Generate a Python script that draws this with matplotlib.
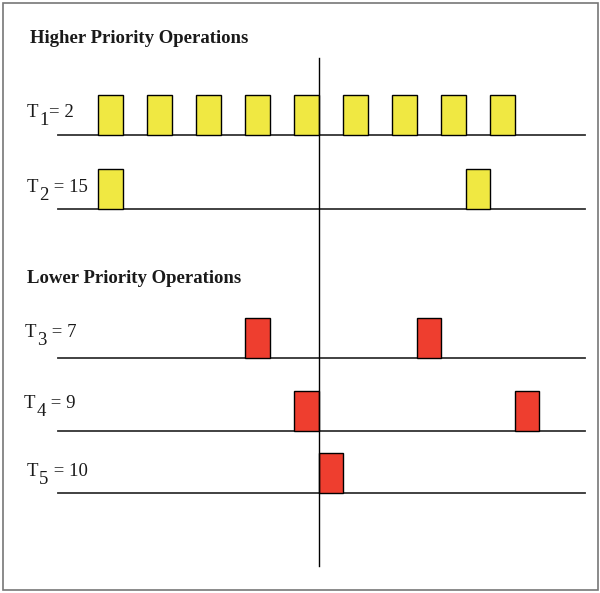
import matplotlib.pyplot as plt
from matplotlib.patches import Rectangle

plt.rcParams['font.family'] = ['Liberation Serif', 'DejaVu Serif']

# task periods and the times each one runs (one time unit per block)
tasks = ['1', '2', '3', '4', '5']
periods = [2, 15, 7, 9, 10]
runs = [
    [0, 2, 4, 6, 8, 10, 12, 14, 16],
    [0, 15],
    [6, 13],
    [8, 17],
    [9],
]
colors = ['#f0e842', '#f0e842', '#ee3e2f', '#ee3e2f', '#ee3e2f']
now = 9

# row baselines (pixel rows, top down)
rows = [135, 209, 358, 431, 493]
label_x = [27, 27, 25, 24, 27]
label_y = [117, 192, 337, 408, 476]
block_h = 40

fig = plt.figure(figsize=(6, 5.93), dpi=100)
ax = fig.add_axes([0, 0, 1, 1])
px = 24.5
ax.set_xlim(-98 / px, (600 - 98) / px)
ax.set_ylim(593, 0)
ax.axis('off')

# frame
ax.add_patch(Rectangle((-95 / px, 3), 595 / px, 587, fill=False,
                       ec='#777777', lw=1.2))

for i in range(len(tasks)):
    ax.plot([-40 / px, 487 / px], [rows[i], rows[i]], color='#333333', lw=1.3,
            zorder=1)
    for t in runs[i]:
        ax.add_patch(Rectangle((t, rows[i] - block_h), 1, block_h,
                               fc=colors[i], ec='black', lw=1.0, zorder=3))
    # label: T, lowered subscript, then "= period"
    tt = ax.text((label_x[i] - 98) / px, label_y[i], 'T', fontsize=13.5,
                 va='baseline', ha='left', color='#1a1a1a')
    sub = ax.annotate(tasks[i], xy=(1, 0), xycoords=tt, xytext=(0.5, -5.5),
                      textcoords='offset points', fontsize=13.5, va='bottom',
                      ha='left', color='#1a1a1a')
    eq = '= ' if i == 0 else ' = '
    ax.annotate(eq + str(periods[i]), xy=(1, 0), xycoords=(sub, tt),
                xytext=(0, 0), textcoords='offset points', fontsize=13.5,
                va='bottom', ha='left', color='#1a1a1a')

ax.plot([now, now], [58, 566], color='black', lw=1.0, zorder=4)

ax.text((30 - 98) / px, 43, 'Higher Priority Operations', fontsize=13.5,
        fontweight='bold', color='#1a1a1a', va='baseline')
ax.text((27 - 98) / px, 283, 'Lower Priority Operations', fontsize=13.5,
        fontweight='bold', color='#1a1a1a', va='baseline')

fig.savefig('out.png', dpi=100)
